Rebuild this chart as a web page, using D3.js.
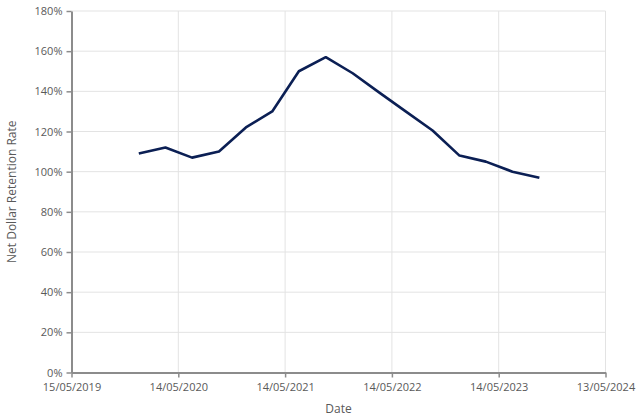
<!DOCTYPE html>
<html>
<head>
<meta charset="utf-8">
<script src="https://cdn.jsdelivr.net/npm/d3@7"></script>
<style>
html,body{margin:0;padding:0;background:#fff;}
svg{display:block;}
text{font-family:"Open Sans",sans-serif;fill:#595959;}
</style>
</head>
<body>
<svg id="chart" width="640" height="418"></svg>
<script>
const dates = ["2019-12-31","2020-03-31","2020-06-30","2020-09-30","2020-12-31","2021-03-31","2021-06-30","2021-09-30","2021-12-31","2022-03-31","2022-06-30","2022-09-30","2022-12-31","2023-03-31","2023-06-30","2023-09-30"];
const retention = [1.09,1.12,1.07,1.10,1.22,1.30,1.50,1.57,1.49,1.395,1.30,1.205,1.08,1.05,1.00,0.97];
const xTickDates = ["2019-05-15","2020-05-14","2021-05-14","2022-05-14","2023-05-14","2024-05-13"];
const yTicks = [0,0.2,0.4,0.6,0.8,1.0,1.2,1.4,1.6,1.8];
const xTitle = "Date";
const yTitle = "Net Dollar Retention Rate";

const parse = d3.utcParse("%Y-%m-%d");
const fmtDate = d3.utcFormat("%d/%m/%Y");
const data = dates.map((d,i)=>({date:parse(d), v:retention[i]}));
const xt = xTickDates.map(parse);

const svg = d3.select("#chart");
const m = {left:71.5, right:605.5, top:11, bottom:372.5};

const x = d3.scaleUtc().domain([xt[0], xt[xt.length-1]]).range([m.left, m.right]);
const y = d3.scaleLinear().domain([0,1.8]).range([m.bottom, m.top]);

// gridlines
svg.append("g").selectAll("line.h").data(yTicks.slice(1)).join("line")
  .attr("x1", m.left).attr("x2", m.right)
  .attr("y1", d=>y(d)).attr("y2", d=>y(d))
  .attr("stroke", "#e3e3e3").attr("stroke-width", 1);
svg.append("g").selectAll("line.v").data(xt.slice(1)).join("line")
  .attr("x1", d=>x(d)).attr("x2", d=>x(d))
  .attr("y1", m.top).attr("y2", m.bottom)
  .attr("stroke", "#e3e3e3").attr("stroke-width", 1);

// axes
const yAxis = d3.axisLeft(y).tickValues(yTicks).tickFormat(d3.format(".0%")).tickSizeInner(5).tickSizeOuter(0).tickPadding(4);
const gy = svg.append("g").attr("transform", `translate(${m.left},0)`).call(yAxis);
const xAxis = d3.axisBottom(x).tickValues(xt).tickFormat(fmtDate).tickSizeInner(5).tickSizeOuter(0).tickPadding(5.5);
const gx = svg.append("g").attr("transform", `translate(0,${m.bottom})`).call(xAxis);

[gx, gy].forEach(g=>{
  g.select(".domain").attr("stroke","#8c8c8c").attr("stroke-width",2);
  g.selectAll(".tick line").attr("stroke","#8c8c8c").attr("stroke-width",1.5);
  g.selectAll(".tick text").attr("fill","#595959").style("font-family","'Open Sans',sans-serif").style("font-size","11px");
});

// line
const line = d3.line().x(d=>x(d.date)).y(d=>y(d.v));
svg.append("path").datum(data)
  .attr("d", line).attr("fill","none")
  .attr("stroke","#0b1f54").attr("stroke-width",2.6)
  .attr("stroke-linejoin","round");

// titles
svg.append("text").attr("x", (m.left+m.right)/2).attr("y", 413)
  .attr("text-anchor","middle").style("font-size","12px").text(xTitle);
svg.append("text").attr("transform", `translate(16,${(m.top+m.bottom)/2}) rotate(-90)`)
  .attr("text-anchor","middle").style("font-size","12px").text(yTitle);
</script>
</body>
</html>
